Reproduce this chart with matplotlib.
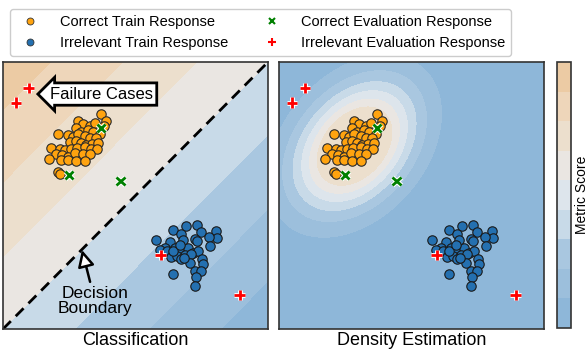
import numpy as np
import matplotlib
matplotlib.use('Agg')
import matplotlib.pyplot as plt
import matplotlib.patheffects as pe
from matplotlib.colors import ListedColormap, BoundaryNorm
from matplotlib.cm import ScalarMappable
from matplotlib.lines import Line2D

plt.rcParams['font.family'] = ['Liberation Sans', 'DejaVu Sans']

# correct train responses (orange cluster)
orange_x = [3.71, 3.87, 3.80, 2.83, 3.02, 3.30, 3.46, 2.77, 2.96, 3.21, 3.40, 3.65,
            2.08, 2.45, 2.64, 2.83, 3.08, 3.27, 3.50, 2.52, 2.74, 2.96, 3.14, 3.37,
            3.58, 1.82, 2.14, 2.33, 2.58, 2.79, 3.08, 3.33, 3.55, 2.01, 2.24, 2.45,
            2.70, 3.02, 3.30, 1.74, 2.20, 2.45, 2.77, 3.08, 2.08, 2.16]
orange_y = [8.04, 7.79, 7.60, 7.79, 7.67, 7.60, 7.72, 7.53, 7.38, 7.44, 7.38, 7.32,
            7.32, 7.25, 7.19, 7.32, 7.23, 7.15, 7.15, 7.00, 7.03, 6.97, 6.90, 6.94,
            6.97, 6.78, 6.73, 6.69, 6.75, 6.78, 6.82, 6.73, 6.73, 6.57, 6.50, 6.44,
            6.60, 6.57, 6.57, 6.38, 6.32, 6.32, 6.28, 6.28, 5.88, 5.82]

# irrelevant train responses (blue cluster)
blue_x = [5.79, 6.41, 6.89, 7.31, 7.48, 8.02, 8.06, 7.77, 6.70, 6.79, 7.23, 7.33,
          6.29, 6.10, 5.91, 6.48, 6.63, 6.98, 7.17, 7.36, 7.80, 6.20, 6.33, 6.58,
          6.86, 7.11, 6.73, 7.04, 7.51, 7.55, 7.26, 7.48, 7.30, 6.41, 7.23, 6.83,
          6.41, 6.67]
blue_y = [3.32, 3.70, 3.86, 3.89, 3.63, 3.67, 3.42, 3.45, 3.56, 3.35, 3.37, 3.30,
          3.25, 3.03, 2.97, 3.03, 2.97, 3.03, 2.85, 2.91, 3.10, 2.91, 2.68, 2.72,
          2.78, 2.81, 2.63, 2.47, 2.63, 2.43, 2.16, 2.16, 1.95, 2.07, 1.60, 2.66,
          2.91, 3.16]

correct_eval_x = [3.69, 2.48, 4.43]
correct_eval_y = [7.53, 5.78, 5.54]
irrelevant_eval_x = [0.97, 0.48, 5.95, 8.93]
irrelevant_eval_y = [9.03, 8.48, 2.78, 1.28]

# 9 colour bands, top (high score) to bottom (low score)
band_colors = ['#ECCBA4', '#EED6BA', '#ECDFCD', '#EAE6E2', '#DDE5EC',
               '#C8DAE8', '#A9C7E0', '#9CBFDC', '#8EB7D9']

fig = plt.figure(figsize=(5.88, 3.54), dpi=100)
ax1 = fig.add_axes([0.0051, 0.0706, 0.4507, 0.7542])
ax2 = fig.add_axes([0.4745, 0.0706, 0.4507, 0.7542])
cax = fig.add_axes([0.9473, 0.0734, 0.0238, 0.7514])

gx, gy = np.meshgrid(np.linspace(0, 10, 400), np.linspace(0, 10, 400))

# classification score: signed distance to the diagonal boundary
score = gy - gx
ax1.contourf(gx, gy, score, levels=[-10.1, -8.2, -5.5, -2.7, 0, 2.7, 5.5, 8.2, 10.1],
             colors=[band_colors[8], band_colors[7], band_colors[6], band_colors[5],
                     band_colors[3], band_colors[2], band_colors[1], band_colors[0]])
ax1.plot([0, 10], [0, 10], color='black', lw=2, ls=(0, (4, 2.5)))

# density estimate of the correct train cluster
cx, cy = 2.85, 6.85
cov = np.array([[2.45, 0.9], [0.9, 2.65]])
inv = np.linalg.inv(cov)
dx, dy = gx - cx, gy - cy
d2 = inv[0, 0] * dx**2 + 2 * inv[0, 1] * dx * dy + inv[1, 1] * dy**2
dens = np.exp(-0.5 * d2)
ax2.contourf(gx, gy, dens, levels=[0, 1/9, 2/9, 3/9, 4/9, 5/9, 6/9, 1.01],
             colors=band_colors[8:1:-1])

halo = [pe.withStroke(linewidth=3.5, foreground='white')]
for ax in (ax1, ax2):
    ax.scatter(orange_x, orange_y, s=46, c='#FFA30F', edgecolors='#2a2a2a', lw=0.8, zorder=3)
    ax.scatter(blue_x, blue_y, s=46, c='#2470B0', edgecolors='#1a1a1a', lw=0.8, zorder=3)
    ax.plot(correct_eval_x, correct_eval_y, 'x', color='green', ms=6, mew=2,
            path_effects=halo, zorder=4)
    ax.plot(irrelevant_eval_x, irrelevant_eval_y, '+', color='red', ms=7.5, mew=2,
            path_effects=halo, zorder=4)
    ax.set_xlim(0, 10)
    ax.set_ylim(0, 10)
    ax.set_xticks([])
    ax.set_yticks([])
    for s in ax.spines.values():
        s.set_color('#333333')
        s.set_linewidth(1.2)

ax1.set_xlabel('Classification', fontsize=13, labelpad=2)
ax2.set_xlabel('Density Estimation', fontsize=13, labelpad=2)

ax1.text(3.72, 8.80, 'Failure Cases', fontsize=12, ha='center', va='center', zorder=5,
         bbox=dict(boxstyle='larrow,pad=0.22', fc='white', ec='black', lw=2))
ax1.annotate('Decision\nBoundary', xy=(2.98, 2.96), xytext=(3.47, 1.05), fontsize=12.5,
             ha='center', va='center', linespacing=1.0, zorder=5,
             arrowprops=dict(arrowstyle='-|>,head_length=0.8,head_width=0.4',
                             fc='white', ec='black', lw=1.8, shrinkA=1, shrinkB=0))

cmap = ListedColormap(band_colors[::-1])
norm = BoundaryNorm(np.arange(10), 9)
cb = fig.colorbar(ScalarMappable(norm=norm, cmap=cmap), cax=cax)
cb.set_ticks([])
cb.minorticks_off()
cax.tick_params(which='both', length=0)
cb.outline.set_edgecolor('#333333')
cb.outline.set_linewidth(1.2)
cb.set_label('Metric Score', fontsize=10, labelpad=3)

handles = [
    Line2D([], [], ls='none', marker='o', ms=5, mfc='#FFA30F', mec='#333333', mew=0.6),
    Line2D([], [], ls='none', marker='o', ms=5, mfc='#2470B0', mec='#333333', mew=0.6),
    Line2D([], [], ls='none', marker='x', ms=5, color='green', mew=1.5),
    Line2D([], [], ls='none', marker='+', ms=6, color='red', mew=1.5),
]
labels = ['Correct Train Response', 'Irrelevant Train Response',
          'Correct Evaluation Response', 'Irrelevant Evaluation Response']
leg = fig.legend(handles, labels, loc='upper center', bbox_to_anchor=(0.443, 0.995),
                 ncol=2, fontsize=10.5, handletextpad=1.0, columnspacing=2.0,
                 frameon=True, fancybox=True, framealpha=1, edgecolor='#cccccc')

plt.savefig('out.png', dpi=100)
